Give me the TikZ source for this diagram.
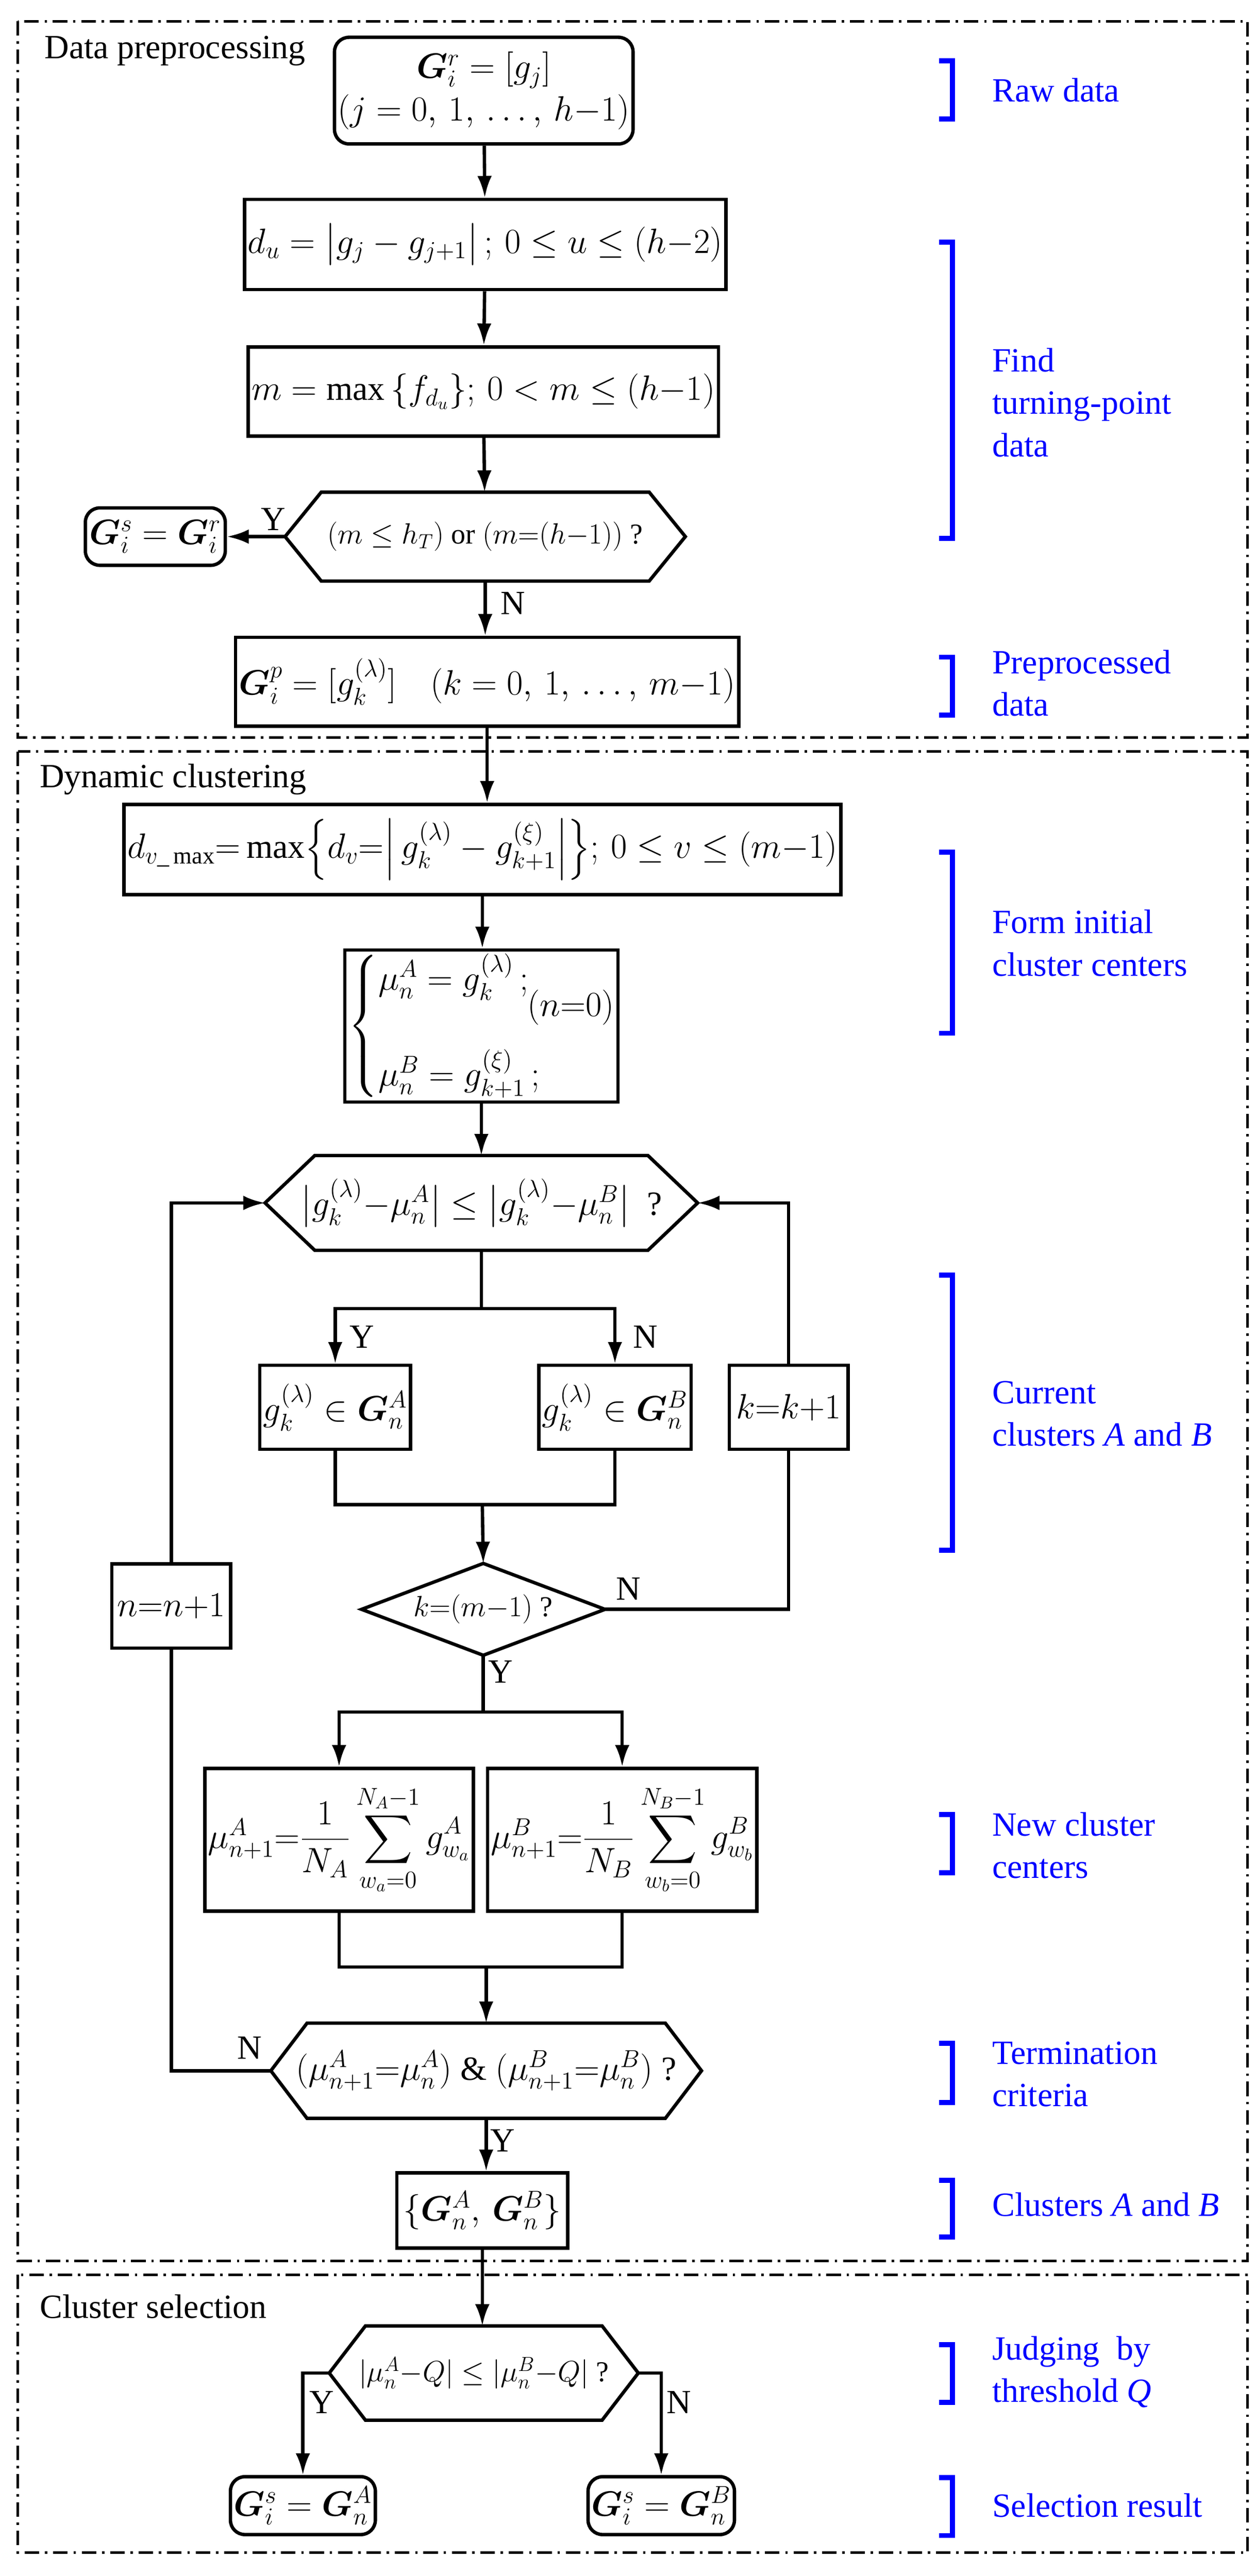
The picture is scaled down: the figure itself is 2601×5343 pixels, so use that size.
\documentclass[tikz,border=0pt]{standalone}
\usepackage{amsmath,amssymb}
\usepackage{bm}
\usepackage{fontspec}
\setmainfont{Liberation Serif}
\usetikzlibrary{arrows.meta}
\begin{document}
\begin{tikzpicture}[x=0.01cm,y=-0.01cm,
  every node/.style={font=\fontsize{20}{25}\selectfont},
  box/.style={draw,line width=2pt,inner sep=2pt,align=center},
  rbox/.style={box,rounded corners=0.3cm},
  ghost/.style={inner sep=0pt,align=center},
  small/.style={font=\fontsize{17}{21}\selectfont},
  shp/.style={line width=2pt},
  arr/.style={line width=2pt,-{Latex[length=0.45cm,width=0.3cm]}},
  ln/.style={line width=2pt},
  frame/.style={line width=1.5pt,dash pattern=on 0.3cm off 0.12cm on 0.05cm off 0.12cm},
  brk/.style={blue,line width=3pt},
  lbl/.style={text=blue,anchor=west,align=left},
  yn/.style={inner sep=2pt}]
\useasboundingbox (0,0) rectangle (2601,5343);
% frames
\draw[frame] (37,44) rectangle (2587,1530);
\draw[frame] (37,1559) rectangle (2587,4689);
\draw[frame] (37,4718) rectangle (2587,5294);
\node[anchor=west] (t1) at (80,106) {Data preprocessing};
\node[anchor=west] (t2) at (70,1616) {Dynamic clustering};
\node[anchor=west] (t3) at (70,4784) {Cluster selection};
% nodes
\node[rbox,minimum width=5.33cm,minimum height=2.21cm] (raw) at (1003,188) {$\bm G_i^{r}=[g_j]$\\$(j=0,\,1,\,\ldots,\,h{-}1)$};
\node[box,minimum width=8.27cm,minimum height=1.87cm] (du) at (1006,507) {$d_u=\bigl|g_j-g_{j+1}\bigr|\,;\,0\le u\le(h{-}2)$};
\node[box,minimum width=8.3cm,minimum height=1.85cm] (m) at (1002,812) {$m=\max\,\{f_{d_u}\};\,0<m\le(h{-}1)$};
\node[ghost,small,minimum width=8.28cm,minimum height=1.83cm] (h1) at (1006,1113) {$(m\le h_T)$ or $(m{=}(h{-}1))$ ?};
\node[rbox,minimum width=2.9cm,minimum height=1.19cm] (gs) at (322,1113) {$\bm G_i^s=\bm G_i^r$};
\node[box,minimum width=9.36cm,minimum height=1.84cm] (gp) at (1010,1414) {$\bm G_i^p=[g_k^{(\lambda)}]\quad(k=0,\,1,\,\ldots,\,m{-}1)$};
\node[box,minimum width=13.75cm,minimum height=1.87cm] (dv) at (1000,1762) {$d_{v\_\max}{=}\max\Bigl\{d_v{=}\Bigl|\,g_k^{(\lambda)}-g_{k+1}^{(\xi)}\Bigr|\Bigr\};\,0\le v\le(m{-}1)$};
\node[box,minimum width=5.53cm,minimum height=3.14cm] (init) at (998,2128) {$\left\{\begin{array}{@{}l@{}}\mu_n^A=g_k^{(\lambda)}\,;\\[3ex]\mu_n^B=g_{k+1}^{(\xi)}\,;\end{array}\right.\hspace{-0.6em}\raisebox{1.2ex}{$(n{=}0)$}$};
\node[ghost,minimum width=8.95cm,minimum height=1.95cm] (h2) at (998,2495) {$\bigl|g_k^{(\lambda)}{-}\mu_n^A\bigr|\le\bigl|g_k^{(\lambda)}{-}\mu_n^B\bigr|$\ \ ?};
\node[box,minimum width=3.05cm,minimum height=1.74cm] (A) at (695,2919) {$g_k^{(\lambda)}\in\bm G_n^A$};
\node[box,minimum width=3.05cm,minimum height=1.74cm] (B) at (1275,2919) {$g_k^{(\lambda)}\in\bm G_n^B$};
\node[box,minimum width=2.46cm,minimum height=1.74cm] (kk) at (1635,2919) {$k{=}k{+}1$};
\node[ghost,small,minimum width=5.03cm,minimum height=1.89cm] (dia) at (1002,3338) {$k{=}(m{-}1)$ ?};
\node[box,minimum width=2.46cm,minimum height=1.75cm] (nn) at (355,3331) {$n{=}n{+}1$};
\node[box,minimum width=5.51cm,minimum height=2.96cm] (A2) at (703,3816) {$\mu_{n+1}^A{=}\dfrac{1}{N_A}\displaystyle\sum_{w_a=0}^{N_A-1}g_{w_a}^A$};
\node[box,minimum width=5.54cm,minimum height=2.96cm] (B2) at (1290,3816) {$\mu_{n+1}^B{=}\dfrac{1}{N_B}\displaystyle\sum_{w_b=0}^{N_B-1}g_{w_b}^B$};
\node[ghost,minimum width=8.91cm,minimum height=1.96cm] (h3) at (1008,4295) {$(\mu_{n+1}^A{=}\mu_n^A)$ \& $(\mu_{n+1}^B{=}\mu_n^B)$ ?};
\node[box,minimum width=3.54cm,minimum height=1.56cm] (cl) at (1000,4585) {$\{\bm G_n^A,\,\bm G_n^B\}$};
\node[ghost,small,minimum width=6.39cm,minimum height=1.94cm] (h4) at (1003,4922) {$|\mu_n^A{-}Q|\le|\mu_n^B{-}Q|$ ?};
\node[rbox,minimum width=2.95cm,minimum height=1.2cm] (rA) at (628,5197) {$\bm G_i^s=\bm G_n^A$};
\node[rbox,minimum width=2.92cm,minimum height=1.2cm] (rB) at (1371,5197) {$\bm G_i^s=\bm G_n^B$};
% hexagon outlines
\foreach \n/\d in {h1/0.75cm,h2/1.03cm,h3/0.75cm,h4/0.75cm}{
  \draw[shp] (\n.west) -- ([xshift=\d]\n.north west) -- ([xshift=-\d]\n.north east) -- (\n.east) -- ([xshift=-\d]\n.south east) -- ([xshift=\d]\n.south west) -- cycle;}
\draw[shp] (dia.west) -- (dia.north) -- (dia.east) -- (dia.south) -- cycle;
% connectors
\draw[arr] (raw) -- (du);
\draw[arr] (du) -- (m);
\draw[arr] (m) -- (h1);
\draw[arr] (h1.west) -- (gs.east);
\node[yn] (y1) at (567,1077) {Y};
\draw[arr] (h1.south) -- (h1.south |- gp.north);
\node[yn] (n1) at (1063,1251) {N};
\draw[arr] (gp.south) -- (gp.south |- dv.north);
\draw[arr] (dv.south) -- (dv.south |- init.north);
\draw[arr] (init.south) -- (init.south |- h2.north);
\coordinate (s1) at (998,2714);
\draw[ln] (h2.south) -- (s1);
\draw[arr] (s1) -| (A.north);
\draw[arr] (s1) -| (B.north);
\node[yn] (y2) at (750,2773) {Y};
\node[yn] (n2) at (1338,2773) {N};
\coordinate (m1) at (1000,3121);
\draw[ln] (A.south) |- (m1) -| (B.south);
\draw[arr] (m1) -- (dia.north);
\draw[ln] (dia.east) -| (kk.south);
\draw[arr] (kk.north) |- (h2.east);
\node[yn] (n3) at (1303,3296) {N};
\coordinate (s2) at (1002,3551);
\draw[ln] (dia.south) -- (s2);
\draw[arr] (s2) -| (A2.north);
\draw[arr] (s2) -| (B2.north);
\node[yn] (y3) at (1038,3468) {Y};
\coordinate (m2) at (1008,4080);
\draw[ln] (A2.south) |- (m2) -| (B2.south);
\draw[arr] (m2) -- (h3.north);
\draw[ln] (h3.west) -| (nn.south);
\draw[arr] (nn.north) |- (h2.west);
\node[yn] (n4) at (517,4248) {N};
\draw[arr] (h3.south) -- (h3.south |- cl.north);
\node[yn] (y4) at (1042,4440) {Y};
\draw[arr] (cl.south) -- (cl.south |- h4.north);
\draw[arr] (h4.west) -| (rA.north);
\draw[arr] (h4.east) -| (rB.north);
\node[yn] (y5) at (667,4983) {Y};
\node[yn] (n5) at (1408,4983) {N};
% brackets and labels
\foreach \a/\b in {126/247,502/1117,1363/1483,1767/2143,2645/3215,3764/3884,4238/4361,4522/4640,4863/4983,5139/5259}{
  \draw[brk] (1947,\a) -- (1975,\a) -- (1975,\b) -- (1947,\b);}
\node[lbl] (L1) at (2045,187) {Raw data};
\node[lbl] (L2) at (2045,835) {Find\\turning-point\\data};
\node[lbl] (L3) at (2045,1417) {Preprocessed\\data};
\node[lbl] (L4) at (2045,1956) {Form initial\\cluster centers};
\node[lbl] (L5) at (2045,2932) {Current\\clusters \textit{A} and \textit{B}};
\node[lbl] (L6) at (2045,3828) {New cluster\\centers};
\node[lbl] (L7) at (2045,4302) {Termination\\criteria};
\node[lbl] (L8) at (2045,4572) {Clusters \textit{A} and \textit{B}};
\node[lbl] (L9) at (2045,4920) {Judging\ \ by\\threshold \textit{Q}};
\node[lbl] (L10) at (2045,5196) {Selection result};
\end{tikzpicture}
\end{document}
